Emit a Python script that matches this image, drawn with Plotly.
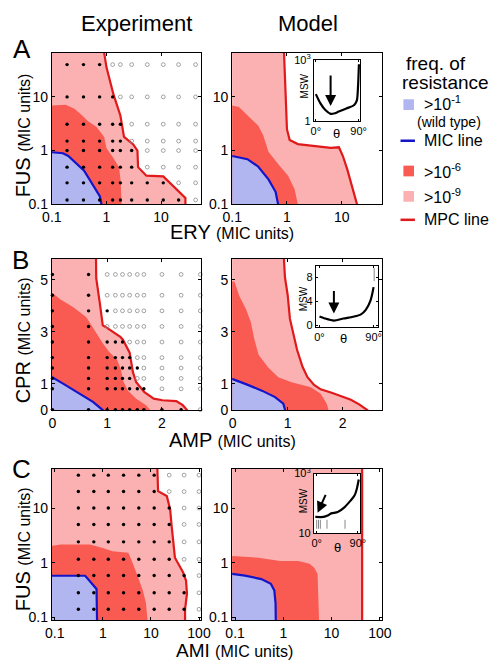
import math
import plotly.graph_objects as go

W, H = 498, 668
FONT = "Liberation Sans, Arial, Helvetica, sans-serif"
PINK, DARK, LAV = "#fbb1b1", "#f95b52", "#b1b5f0"
BLUE, RED = "#1414c8", "#e0191b"

# ---------------- Panel A : FUS vs ERY (MIC units) ----------------
a_exp_mpc_x = [0.90, 0.91, 1.0, 1.35, 1.8, 2.1, 3.1, 3.7, 3.8, 5.4, 11, 28, 28]
a_exp_mpc_y = [100, 66, 36, 11, 4.5, 1.8, 1.3, 1.0, 0.49, 0.34, 0.33, 0.13, 0.01]
a_exp_r6_x = [0.05, 0.1, 0.18, 0.26, 0.36, 0.45, 0.66, 0.91, 1.0, 1.32, 1.7, 1.82, 1.9, 1.9]
a_exp_r6_y = [6.9, 6.9, 7.1, 6.0, 4.5, 3.6, 2.75, 1.78, 1.12, 0.74, 0.49, 0.275, 0.1, 0.01]
a_exp_mic_x = [0.05, 0.1, 0.16, 0.2, 0.39, 0.76, 0.81, 0.81]
a_exp_mic_y = [0.93, 0.93, 0.89, 0.79, 0.42, 0.14, 0.1, 0.01]
a_dot_cols = [0.19, 0.38, 0.75, 1.3, 1.8, 2.9, 5.6, 11, 21, 43]
a_dot_rows = [40, 10, 3.1, 1.5, 1.0, 0.49, 0.25, 0.12]
a_dot_filled = [3, 4, 5, 5, 6, 6, 8, 9]

a_mod_mpc_x = [0.87, 0.89, 0.95, 1.0, 1.12, 1.58, 3.16, 6.3, 8.9, 10.5, 12.6, 14.8, 17.4, 19, 19]
a_mod_mpc_y = [100, 63, 10, 2.5, 1.58, 1.32, 1.2, 1.12, 1.15, 0.79, 0.45, 0.25, 0.14, 0.1, 0.01]
a_mod_r6_x = [0.05, 0.1, 0.133, 0.2, 0.3, 0.37, 0.46, 0.69, 1.05, 1.38, 1.58, 1.6]
a_mod_r6_y = [6.9, 6.9, 6.5, 4.3, 2.9, 1.9, 0.95, 0.56, 0.34, 0.19, 0.1, 0.01]
a_mod_mic_x = [0.05, 0.1, 0.19, 0.3, 0.46, 0.62, 0.69, 0.7]
a_mod_mic_y = [0.79, 0.79, 0.69, 0.5, 0.29, 0.17, 0.1, 0.01]

# ---------------- Panel B : CPR vs AMP (MIC units) ----------------
b_exp_mpc_x = [0.79, 0.79, 0.80, 0.86, 0.92, 0.97, 1.24, 1.29, 1.41, 1.47, 1.53, 1.68, 1.85, 2.01, 2.26, 2.38, 2.46, 2.5]
b_exp_mpc_y = [7, 5.81, 5.06, 4.18, 3.24, 3.18, 2.80, 2.68, 2.19, 1.44, 1.05, 0.67, 0.42, 0.36, 0.33, 0.17, -0.02, -1]
b_exp_r6_x = [-1, 0, 0.15, 0.39, 0.62, 0.77, 0.92, 1.03, 1.18, 1.25, 1.29, 1.38, 1.53, 1.71, 1.79, 1.8]
b_exp_r6_y = [4.49, 4.49, 4.24, 3.93, 3.55, 3.05, 2.55, 2.24, 1.92, 1.55, 1.11, 0.73, 0.42, 0.17, -0.02, -1]
b_exp_mic_x = [-1, 0, 0.21, 0.5, 0.74, 0.92, 0.93]
b_exp_mic_y = [1.24, 1.24, 0.98, 0.61, 0.30, -0.02, -1]
b_dot_cols = [0, 0.66, 1.0, 1.15, 1.28, 1.41, 1.55, 1.67, 2.0, 2.35, 2.7]
b_dot_rows = [5.2, 4.4, 3.8, 3.2, 2.6, 2.0, 1.6, 1.2, 0.8, 0]
b_dot_filled = [2, 2, 3, 2, 5, 6, 7, 6, 8, 10]

b_mod_mpc_x = [0.93, 0.93, 0.95, 1.0, 1.04, 1.09, 1.17, 1.27, 1.36, 1.48, 1.6, 1.8, 2.0, 2.15, 2.3, 2.45, 2.47]
b_mod_mpc_y = [7, 5.85, 5.1, 4.4, 3.5, 3.0, 2.3, 1.65, 1.25, 0.95, 0.78, 0.65, 0.5, 0.38, 0.2, -0.02, -1]
b_mod_r6_x = [-1, 0.03, 0.12, 0.24, 0.33, 0.39, 0.47, 0.65, 0.83, 1.07, 1.42, 1.60, 1.71, 1.74, 1.74]
b_mod_r6_y = [4.95, 4.93, 4.37, 3.87, 3.36, 2.74, 2.11, 1.61, 1.24, 1.05, 0.86, 0.61, 0.23, 0.01, -1]
b_mod_mic_x = [-1, 0, 0.24, 0.53, 0.77, 0.92, 0.95, 0.95]
b_mod_mic_y = [1.17, 1.17, 0.98, 0.73, 0.48, 0.23, 0.01, -1]

# ---------------- Panel C : FUS vs AMI (MIC units) ----------------
c_exp_mpc_x = [13.3, 13.5, 14.1, 21.4, 25.1, 26.9, 29.5, 31.6, 46.8, 53.7, 56.2, 51.3, 51.3]
c_exp_mpc_y = [100, 52, 20.4, 16.6, 9.5, 4.8, 2.45, 1.23, 0.66, 0.47, 0.27, 0.14, 0.01]
c_exp_r6_x = [0.05, 0.089, 0.135, 0.54, 1.0, 1.58, 3.4, 4.27, 5.4, 6.8, 7.9, 8.5, 8.5]
c_exp_r6_y = [2.04, 2.04, 2.14, 2.14, 1.86, 1.62, 1.51, 0.93, 0.54, 0.31, 0.18, 0.09, 0.01]
c_exp_mic_x = [0.05, 0.43, 0.74, 0.79, 0.79]
c_exp_mic_y = [0.575, 0.575, 0.33, 0.09, 0.01]
c_dot_cols = [0.31, 0.65, 1.3, 2.7, 5.6, 11.7, 24, 49, 100]
c_dot_rows = [40, 20, 10, 5, 2.4, 1.15, 0.58, 0.28, 0.14]
c_dot_filled = [6, 6, 7, 7, 7, 7, 8, 8, 8]

c_mod_mpc_x = [43, 43]
c_mod_mpc_y = [100, 0.01]
c_mod_r6_x = [0.05, 0.087, 0.30, 0.87, 2.04, 3.5, 4.37, 5.13, 5.25, 5.5, 5.5]
c_mod_r6_y = [1.32, 1.32, 1.23, 1.07, 1.07, 0.95, 0.81, 0.62, 0.31, 0.09, 0.01]
c_mod_mic_x = [0.05, 0.087, 0.16, 0.35, 0.55, 0.65, 0.69, 0.72, 0.72]
c_mod_mic_y = [0.62, 0.62, 0.58, 0.50, 0.41, 0.31, 0.18, 0.09, 0.01]

# ---------------- Insets : MSW vs theta ----------------
ia_theta = [0, 10, 20, 31, 40, 48, 64, 80, 86, 88.5, 90.5]
ia_msw = [21, 7.2, 3.5, 2.3, 2.45, 2.95, 4.2, 6.0, 10, 44, 600]
ib_theta = [0, 8, 24, 40, 56, 69, 77, 85, 90]
ib_msw = [1.5, 1.2, 0.8, 1.15, 1.45, 1.85, 2.6, 4.2, 6.4]
ic_theta = [-3, 15, 24, 32, 46, 60, 74, 83, 88, 92]
ic_msw = [35, 35, 39, 46, 51, 72, 123, 186, 316, 630]
ic_err_theta = [0, 4, 8, 22.5, 62]

fig = go.Figure()


def px_x(p):
    return p / W


def px_y(p):
    return 1 - p / H


def add_region(xa, ya, bx, by, color, lo):
    xl, yl = lo
    fig.add_trace(go.Scatter(
        x=[xl, xl] + bx + [bx[-1]], y=[yl, by[0]] + by + [yl],
        fill="toself", fillcolor=color, mode="none", xaxis=xa, yaxis=ya,
        hoverinfo="skip", showlegend=False))


def add_line(xa, ya, bx, by, color):
    fig.add_trace(go.Scatter(x=bx, y=by, mode="lines", line=dict(color=color, width=2.2),
                             xaxis=xa, yaxis=ya, hoverinfo="skip", showlegend=False))


def add_panel(xa, ya, mpc, r6, mic, lo):
    add_region(xa, ya, mpc[0], mpc[1], PINK, lo)
    add_region(xa, ya, r6[0], r6[1], DARK, lo)
    add_region(xa, ya, mic[0], mic[1], LAV, lo)
    add_line(xa, ya, mic[0], mic[1], BLUE)
    add_line(xa, ya, mpc[0], mpc[1], RED)


def add_dots(xa, ya, cols, rows, filled):
    fx, fy, ox, oy = [], [], [], []
    for r, n in zip(rows, filled):
        for i, c in enumerate(cols):
            if i < n:
                fx.append(c); fy.append(r)
            else:
                ox.append(c); oy.append(r)
    fig.add_trace(go.Scatter(x=ox, y=oy, mode="markers", xaxis=xa, yaxis=ya, cliponaxis=False,
                             marker=dict(symbol="circle-open", size=3.8, color="#8c8c8c",
                                         line=dict(width=0.8, color="#8c8c8c")),
                             hoverinfo="skip", showlegend=False))
    fig.add_trace(go.Scatter(x=fx, y=fy, mode="markers", xaxis=xa, yaxis=ya, cliponaxis=False,
                             marker=dict(size=3.4, color="black"),
                             hoverinfo="skip", showlegend=False))


LOG_LO = (0.01, 0.01)
LIN_LO = (-1, -1)
add_panel("x", "y", (a_exp_mpc_x, a_exp_mpc_y), (a_exp_r6_x, a_exp_r6_y), (a_exp_mic_x, a_exp_mic_y), LOG_LO)
add_dots("x", "y", a_dot_cols, a_dot_rows, a_dot_filled)
add_panel("x2", "y2", (a_mod_mpc_x, a_mod_mpc_y), (a_mod_r6_x, a_mod_r6_y), (a_mod_mic_x, a_mod_mic_y), LOG_LO)
add_panel("x3", "y3", (b_exp_mpc_x, b_exp_mpc_y), (b_exp_r6_x, b_exp_r6_y), (b_exp_mic_x, b_exp_mic_y), LIN_LO)
add_dots("x3", "y3", b_dot_cols, b_dot_rows, b_dot_filled)
add_panel("x4", "y4", (b_mod_mpc_x, b_mod_mpc_y), (b_mod_r6_x, b_mod_r6_y), (b_mod_mic_x, b_mod_mic_y), LIN_LO)
add_panel("x5", "y5", (c_exp_mpc_x, c_exp_mpc_y), (c_exp_r6_x, c_exp_r6_y), (c_exp_mic_x, c_exp_mic_y), LOG_LO)
add_dots("x5", "y5", c_dot_cols, c_dot_rows, c_dot_filled)
add_panel("x6", "y6", (c_mod_mpc_x, c_mod_mpc_y), (c_mod_r6_x, c_mod_r6_y), (c_mod_mic_x, c_mod_mic_y), LOG_LO)

# insets
for xa, ya, th, ms in (("x7", "y7", ia_theta, ia_msw), ("x8", "y8", ib_theta, ib_msw),
                       ("x9", "y9", ic_theta, ic_msw)):
    fig.add_trace(go.Scatter(x=th, y=ms, mode="lines", line=dict(color="black", width=2.2, shape="spline", smoothing=0.8),
                             xaxis=xa, yaxis=ya, hoverinfo="skip", showlegend=False))
ex, ey = [], []
for t in ic_err_theta:
    ex += [t, t, None]; ey += [14, 28, None]
fig.add_trace(go.Scatter(x=ex, y=ey, mode="lines", line=dict(color="#888", width=1),
                         xaxis="x9", yaxis="y9", hoverinfo="skip", showlegend=False))
fig.add_trace(go.Scatter(x=[91, 91], y=[7.4, 9.6], mode="lines", line=dict(color="#888", width=1),
                         xaxis="x8", yaxis="y8", hoverinfo="skip", showlegend=False))

tf = dict(family=FONT, size=14, color="black")


def main_axis(dom, rng, typ, vals, texts, anchor):
    return dict(domain=dom, range=rng, type=typ, tickvals=vals, ticktext=texts, anchor=anchor,
                showgrid=False, zeroline=False, showline=True, linecolor="black", linewidth=1,
                mirror="ticks", ticks="inside", ticklen=3, tickcolor="black", tickfont=tf)


def inset_axis(dom, rng, typ, vals, texts, anchor):
    return dict(domain=dom, range=rng, type=typ, tickvals=vals, ticktext=texts, anchor=anchor,
                showgrid=False, zeroline=False, showline=True, linecolor="black", linewidth=1,
                mirror="ticks", ticks="inside", ticklen=2, tickcolor="black",
                tickfont=dict(family=FONT, size=11, color="black"))


EXP_X = [px_x(43.5), px_x(199)]
MOD_X = [px_x(231), px_x(387)]
ROW_A = [px_y(201), px_y(46)]
ROW_B = [px_y(412), px_y(257)]
ROW_C = [px_y(627), px_y(472)]
lv = [0.1, 1, 10]
lt = ["0.1", "1", "10"]
cv = [0.1, 1, 10, 100]
ct = ["0.1", "1", "10", "100"]

lay = dict(
    xaxis=main_axis(EXP_X, [-1, 1.74], "log", lv, lt, "y"),
    yaxis=main_axis(ROW_A, [-1, 1.82], "log", lv, lt, "x"),
    xaxis2=main_axis(MOD_X, [-1, 1.74], "log", lv, lt, "y2"),
    yaxis2=main_axis(ROW_A, [-1, 1.82], "log", lv, lt, "x2"),
    xaxis3=main_axis(EXP_X, [-0.01, 2.72], "linear", [0, 1, 2], ["0", "1", "2"], "y3"),
    yaxis3=main_axis(ROW_B, [-0.02, 5.8], "linear", [0, 1, 3, 5], ["0", "1", "3", "5"], "x3"),
    xaxis4=main_axis(MOD_X, [-0.01, 2.72], "linear", [0, 1, 2], ["0", "1", "2"], "y4"),
    yaxis4=main_axis(ROW_B, [-0.02, 5.8], "linear", [0, 1, 3, 5], ["0", "1", "3", "5"], "x4"),
    xaxis5=main_axis(EXP_X, [-1.06, 2.05], "log", cv, ct, "y5"),
    yaxis5=main_axis(ROW_C, [-1.05, 1.72], "log", lv, lt, "x5"),
    xaxis6=main_axis(MOD_X, [-1.06, 2.05], "log", cv, ct, "y6"),
    yaxis6=main_axis(ROW_C, [-1.05, 1.72], "log", lv, lt, "x6"),
    xaxis7=inset_axis([px_x(316), px_x(364)], [-4, 93], "linear", [0, 90], ["0°", "90°"], "y7"),
    yaxis7=inset_axis([px_y(116), px_y(53)], [0, 3], "log", [1, 1000], ["1", "10<sup>3</sup>"], "x7"),
    xaxis8=inset_axis([px_x(318), px_x(383)], [-6, 98], "linear", [0, 90], ["0°", "90°"], "y8"),
    yaxis8=inset_axis([px_y(327), px_y(264)], [-0.3, 10], "linear", [0, 4, 8], ["0", "4", "8"], "x8"),
    xaxis9=inset_axis([px_x(316), px_x(364)], [-6, 95], "linear", [0, 90], ["0°", "90°"], "y9"),
    yaxis9=inset_axis([px_y(538), px_y(477)], [1, 3], "log", [10, 1000], ["10", "10<sup>3</sup>"], "x9"),
)
fig.update_layout(**lay)

ann = []


def text(x, y, s, size, angle=0, anchor="center"):
    ann.append(dict(x=px_x(x), y=px_y(y), xref="paper", yref="paper", text=s, showarrow=False,
                    textangle=angle, xanchor=anchor, yanchor="middle",
                    font=dict(family=FONT, size=size, color="black")))


text(131, 16, "Experiment", 22)
text(310, 16, "Model", 22)
text(12, 42, "A", 26)
text(11, 258, "B", 26)
text(12, 472, "C", 26)
sm = "<span style='font-size:16px'>(MIC units)</span>"
text(13, 131, "FUS " + sm, 20, -90)
text(13, 341, "CPR " + sm, 20, -90)
text(13, 555, "FUS " + sm, 20, -90)
text(231, 230, "ERY " + sm, 20)
text(231, 443, "AMP " + sm, 20)
text(233, 658, "AMI " + sm, 19)
# inset labels
text(306, 80, "MSW", 10, -90)
text(339, 129, "θ", 13)
text(305, 298, "MSW", 10, -90)
text(347, 339, "θ", 13)
text(306, 505, "MSW", 10, -90)
text(340, 553, "θ", 13)
# legend
text(410, 57, "freq. of", 19, anchor="left")
text(405, 76, "resistance", 19, anchor="left")
text(428, 97, "&gt;10<sup>-1</sup>", 16, anchor="left")
text(421, 117, "(wild type)", 14, anchor="left")
text(428, 136, "MIC line", 16, anchor="left")
text(428, 167, "&gt;10<sup>-6</sup>", 16, anchor="left")
text(428, 193, "&gt;10<sup>-9</sup>", 16, anchor="left")
text(428, 217, "MPC line", 16, anchor="left")

# inset arrows
for xa, ya, hx, hy, tx, ty in (("x7", "y7", 31, math.log10(5.5), 31, math.log10(200)),
                               ("x8", "y8", 24, 2.0, 24, 6.0),
                               ("x9", "y9", 2, math.log10(48), 21, math.log10(215))):
    ann.append(dict(x=hx, y=hy, ax=tx, ay=ty, xref=xa, yref=ya, axref=xa, ayref=ya, text="",
                    showarrow=True, arrowhead=2, arrowsize=1.1, arrowwidth=2, arrowcolor="black"))

shapes = []
for yc, col in ((99, LAV), (167, DARK), (193, PINK)):
    shapes.append(dict(type="rect", xref="paper", yref="paper", x0=px_x(409), x1=px_x(420),
                       y0=px_y(yc + 5.5), y1=px_y(yc - 5.5), fillcolor=col, line=dict(width=0)))
for yc, col in ((136, BLUE), (217, RED)):
    shapes.append(dict(type="line", xref="paper", yref="paper", x0=px_x(406), x1=px_x(421),
                       y0=px_y(yc), y1=px_y(yc), line=dict(color=col, width=2.5)))

fig.update_layout(width=W, height=H, margin=dict(l=0, r=0, t=0, b=0), autosize=False,
                  paper_bgcolor="white", plot_bgcolor="white", annotations=ann, shapes=shapes,
                  showlegend=False, hovermode=False)
fig.write_html("out.html", config={"displayModeBar": False, "staticPlot": True},
               post_script="document.body.style.margin='0px';document.body.style.overflow='hidden';")
